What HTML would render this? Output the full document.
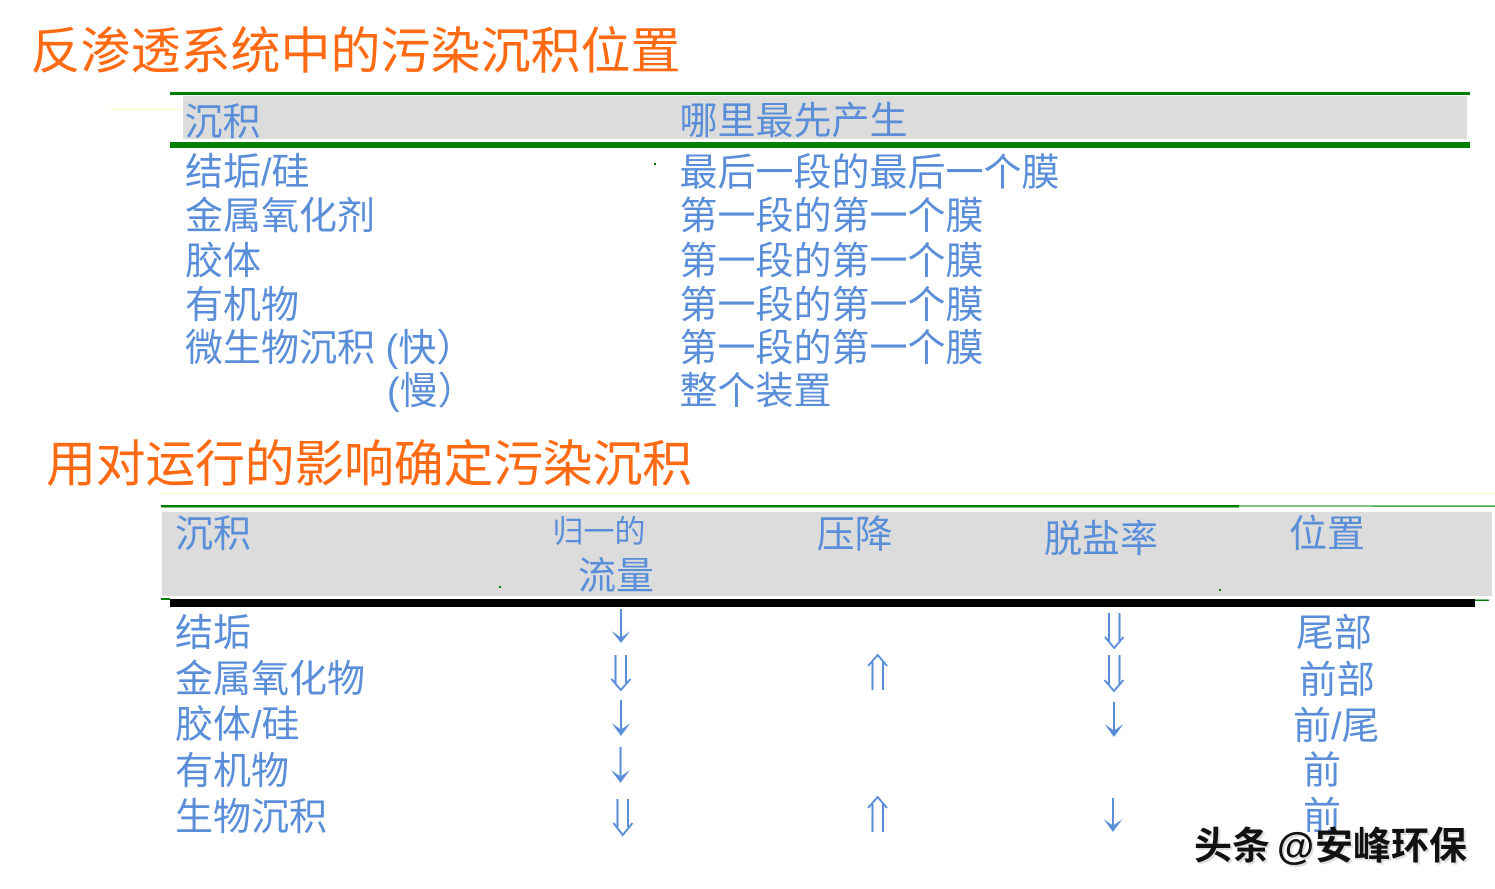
<!DOCTYPE html>
<html>
<head>
<meta charset="utf-8">
<style>
  html,body{margin:0;padding:0;background:#fff;}
  body{width:1495px;height:889px;overflow:hidden;}
  svg{display:block;}
  .t{font-family:"Liberation Sans","Noto Sans CJK SC",sans-serif;fill:#5a8ed8;font-size:38px;}
  .h{font-family:"Liberation Sans","Noto Sans CJK SC",sans-serif;fill:#ff6a13;font-size:50px;}
  .w{font-family:"Liberation Sans","Noto Sans CJK SC",sans-serif;fill:#111;font-size:38px;font-weight:bold;}
</style>
</head>
<body>
<svg width="1495" height="889" viewBox="0 0 1495 889" xmlns="http://www.w3.org/2000/svg">
  <!-- Title 1 -->
  <text class="h" x="30.5" y="68.5">反渗透系统中的污染沉积位置</text>

  <!-- Top table -->
  <line x1="110" y1="109.5" x2="183" y2="109.5" stroke="#ffffc8" stroke-width="1"/>
  <rect x="170" y="92" width="1300" height="3" fill="#008000"/>
  <rect x="183" y="96" width="1284" height="43" fill="#dcdcdc"/>
  <rect x="170" y="142" width="1300" height="6" fill="#008000"/>
  <rect x="654" y="163" width="2" height="2" fill="#008000"/>

  <text class="t" x="184.5" y="135">沉积</text>
  <text class="t" x="679.5" y="134">哪里最先产生</text>

  <text class="t" x="185" y="185">结垢/硅</text>
  <text class="t" x="185" y="229">金属氧化剂</text>
  <text class="t" x="185" y="274">胶体</text>
  <text class="t" x="185" y="318">有机物</text>
  <text class="t" x="185" y="361">微生物沉积 (快）</text>
  <text class="t" x="387" y="404">(慢）</text>

  <text class="t" x="679.5" y="185.5">最后一段的最后一个膜</text>
  <text class="t" x="679.5" y="229">第一段的第一个膜</text>
  <text class="t" x="679.5" y="274">第一段的第一个膜</text>
  <text class="t" x="679.5" y="318">第一段的第一个膜</text>
  <text class="t" x="679.5" y="361">第一段的第一个膜</text>
  <text class="t" x="679.5" y="404">整个装置</text>

  <!-- Title 2 -->
  <text class="h" x="46" y="481.5" textLength="646" lengthAdjust="spacing">用对运行的影响确定污染沉积</text>

  <!-- Bottom table -->
  <line x1="160" y1="493.5" x2="1495" y2="493.5" stroke="#ffffc0" stroke-width="1"/>
  <rect x="161" y="505" width="1078" height="2.5" fill="#008000"/>
  <rect x="1239" y="505" width="133" height="2" fill="#80c080"/>
  <rect x="1372" y="505.5" width="123" height="1.2" fill="#008000"/>
  <rect x="162" y="512" width="1330" height="84" fill="#dcdcdc"/>
  <rect x="161" y="598" width="9" height="2" fill="#008000"/>
  <rect x="170" y="599" width="1305" height="8" fill="#000"/>
  <rect x="1475" y="599.5" width="14" height="1.5" fill="#008000"/>
  <rect x="499" y="586" width="2" height="2" fill="#008000"/>
  <rect x="1219" y="589" width="2" height="2" fill="#008000"/>

  <text class="t" x="175" y="547">沉积</text>
  <text class="t" x="552.5" y="542.5" style="font-size:31px">归一的</text>
  <text class="t" x="578" y="589">流量</text>
  <text class="t" x="816.6" y="547.3">压降</text>
  <text class="t" x="1044" y="552">脱盐率</text>
  <text class="t" x="1289" y="547">位置</text>

  <text class="t" x="175" y="646">结垢</text>
  <text class="t" x="175" y="692">金属氧化物</text>
  <text class="t" x="175" y="737.5">胶体/硅</text>
  <text class="t" x="175" y="784">有机物</text>
  <text class="t" x="175" y="830">生物沉积</text>

  <text class="t" x="1296" y="646">尾部</text>
  <text class="t" x="1298.7" y="693">前部</text>
  <text class="t" x="1293" y="739">前/尾</text>
  <text class="t" x="1303" y="783.5">前</text>
  <text class="t" x="1303" y="829">前</text>

  <!-- Arrows -->
  <g stroke="#5a8ed8" stroke-width="2" fill="none">
    <line x1="621" y1="609" x2="621" y2="638"/>
    <line x1="621" y1="700" x2="621" y2="730"/>
    <line x1="620.5" y1="747" x2="620.5" y2="777"/>
    <line x1="1114" y1="702" x2="1114" y2="731"/>
    <line x1="1113" y1="798" x2="1113" y2="826"/>
    <line x1="615.5" y1="655" x2="615.5" y2="683"/>
    <line x1="626" y1="655" x2="626" y2="683"/>
    <polyline points="611.5,679 620.8,690 630.5,679"/>
    <line x1="617.5" y1="799" x2="617.5" y2="827"/>
    <line x1="628" y1="799" x2="628" y2="827"/>
    <polyline points="613.5,823 622.8,835 632.5,823"/>
    <line x1="1109" y1="613" x2="1109" y2="641"/>
    <line x1="1119.5" y1="613" x2="1119.5" y2="641"/>
    <polyline points="1105,637 1114.2,648 1123.5,637"/>
    <line x1="1109" y1="655" x2="1109" y2="684"/>
    <line x1="1119.5" y1="655" x2="1119.5" y2="684"/>
    <polyline points="1104.5,680 1114,691 1123.5,680"/>
    <line x1="872.5" y1="662" x2="872.5" y2="690"/>
    <line x1="883" y1="662" x2="883" y2="690"/>
    <polyline points="868,666 877.7,655 887,666"/>
    <line x1="872.5" y1="804" x2="872.5" y2="832"/>
    <line x1="883" y1="804" x2="883" y2="832"/>
    <polyline points="868,808 877.7,797 887,808"/>
  </g>
  <g fill="#5a8ed8">
    <polygon points="611.5,631 621,637.5 630.5,631 621,643"/>
    <polygon points="611.5,723 621,729.5 630.5,723 621,736"/>
    <polygon points="611,770 620.5,776.5 630,770 620.5,783"/>
    <polygon points="1104.5,724 1114,730.5 1123.5,724 1114,737"/>
    <polygon points="1103.5,819 1113,825.5 1122.5,819 1113,832"/>
  </g>

  <!-- Watermark -->
  <g>
    <text class="w" x="1196" y="861" style="fill:#ddd">头条</text>
    <text class="w" x="1194" y="859">头条</text>
    <text class="w" x="1279" y="861" style="fill:#ddd">@</text>
    <text class="w" x="1277" y="859">@</text>
    <text class="w" x="1317" y="861" style="fill:#ddd">安峰环保</text>
    <text class="w" x="1315" y="859">安峰环保</text>
  </g>
</svg>
</body>
</html>
